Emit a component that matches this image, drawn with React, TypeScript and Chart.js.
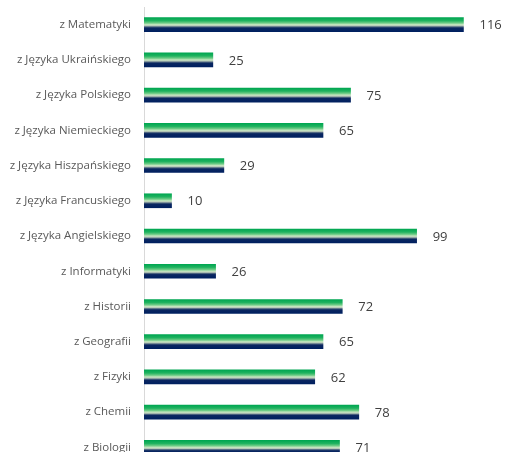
import React, { useEffect, useRef } from "react";
import { Chart, registerables } from "chart.js";

Chart.register(...registerables);

const categories = [
  "z Matematyki",
  "z Języka Ukraińskiego",
  "z Języka Polskiego",
  "z Języka Niemieckiego",
  "z Języka Hiszpańskiego",
  "z Języka Francuskiego",
  "z Języka Angielskiego",
  "z Informatyki",
  "z Historii",
  "z Geografii",
  "z Fizyki",
  "z Chemii",
  "z Biologii",
];

const values = [116, 25, 75, 65, 29, 10, 99, 26, 72, 65, 62, 78, 71];

const AXIS_MAX = 130;

const valueLabels = {
  id: "valueLabels",
  afterDatasetsDraw(chart: any) {
    const { ctx } = chart;
    const meta = chart.getDatasetMeta(0);
    ctx.save();
    ctx.font = "13px 'Open Sans'";
    ctx.fillStyle = "#404040";
    ctx.textAlign = "left";
    ctx.textBaseline = "middle";
    meta.data.forEach((bar: any, i: number) => {
      ctx.fillText(String(values[i]), bar.x + 16, bar.y + 1);
    });
    ctx.restore();
  },
};

export default function App() {
  const ref = useRef<HTMLCanvasElement>(null);

  useEffect(() => {
    document.body.style.margin = "0";
    const canvas = ref.current!;
    const chart = new Chart(canvas, {
      type: "bar",
      data: {
        labels: categories,
        datasets: [
          {
            data: values,
            barThickness: 14,
            borderWidth: 0,
            backgroundColor: (context: any) => {
              const c = context.chart;
              const ys = c.scales && c.scales.y;
              if (!ys || typeof context.dataIndex !== "number") return "#00B050";
              const y = ys.getPixelForValue(context.dataIndex);
              if (!isFinite(y)) return "#00B050";
              const g = c.ctx.createLinearGradient(0, y - 7, 0, y + 7);
              g.addColorStop(0, "#00A651");
              g.addColorStop(0.22, "#1FB25F");
              g.addColorStop(0.38, "#6CCB85");
              g.addColorStop(0.5, "#C4E6BF");
              g.addColorStop(0.58, "#B8C9B9");
              g.addColorStop(0.66, "#4E6480");
              g.addColorStop(0.74, "#0A2660");
              g.addColorStop(1, "#002060");
              return g;
            },
          },
        ],
      },
      options: {
        indexAxis: "y",
        responsive: false,
        animation: false,
        layout: { padding: { top: 7, bottom: 5, right: 4, left: 0 } },
        plugins: {
          legend: { display: false },
          tooltip: { enabled: false },
        },
        scales: {
          x: {
            display: false,
            min: 0,
            max: AXIS_MAX,
          },
          y: {
            afterFit: (scale: any) => {
              scale.width = 144;
              scale.paddingTop = 0;
              scale.paddingBottom = 0;
            },
            grid: { display: false, drawTicks: false },
            border: { display: true, color: "#D9D9D9", width: 1 },
            ticks: {
              padding: 13,
              color: "#595959",
              font: { family: "'Open Sans'", size: 11.5 },
            },
          },
        },
      },
      plugins: [valueLabels],
    });
    return () => chart.destroy();
  }, []);

  return (
    <div style={{ position: "absolute", left: 0, top: 0, width: 506, height: 452, overflow: "hidden" }}>
      <canvas ref={ref} width={506} height={470} style={{ display: "block" }} />
    </div>
  );
}
